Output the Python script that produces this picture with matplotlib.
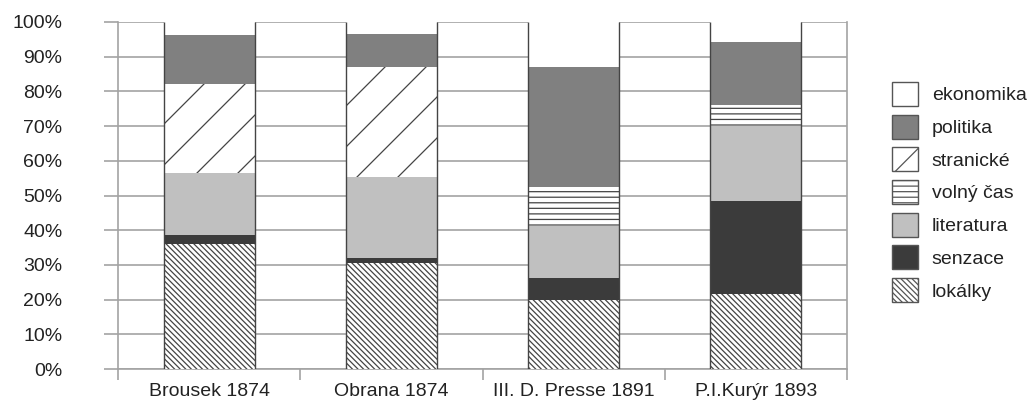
import numpy as np
import matplotlib
matplotlib.use("Agg")
import matplotlib.pyplot as plt
from matplotlib.lines import Line2D
from matplotlib.patches import Patch
from matplotlib.transforms import IdentityTransform

plt.rcParams['font.family'] = ['Liberation Sans', 'DejaVu Sans']
plt.rcParams['hatch.linewidth'] = 0.9
plt.rcParams['hatch.color'] = '#444444'

# categories and shares (%) per topic, stacked bottom -> top
papers = ['Brousek 1874', 'Obrana 1874', 'III. D. Presse 1891', 'P.I.Kurýr 1893']
lokalky = [36.0, 30.6, 19.8, 21.7]
senzace = [2.6, 1.5, 6.5, 26.7]
literatura = [17.8, 23.2, 14.9, 21.6]
volny_cas = [0.0, 0.0, 11.3, 6.0]
stranicke = [25.7, 31.7, 0.0, 0.0]
politika = [14.1, 9.4, 34.5, 18.1]
ekonomika = [3.8, 3.6, 13.0, 5.9]

series = [
    ('lokálky', lokalky, 'white', '\\' * 6),
    ('senzace', senzace, '#3b3b3b', None),
    ('literatura', literatura, '#c0c0c0', None),
    ('volný čas', volny_cas, 'white', '---'),
    ('stranické', stranicke, 'white', None),
    ('politika', politika, '#808080', None),
    ('ekonomika', ekonomika, 'white', None),
]

W, H = 1036, 401
FS = 14
fig = plt.figure(figsize=(W / 100, H / 100), dpi=100)
ax = fig.add_axes([118 / W, 1 - 369 / H, (847 - 118) / W, (369 - 22) / H])

grid_c = '#a3a3a3'
x = np.arange(len(papers))
bottom = np.zeros(len(papers))
containers = {}
for name, vals, col, hatch in series:
    bc = ax.bar(x, vals, 0.5, bottom=bottom, color=col, edgecolor='#444444',
                linewidth=0, hatch=hatch, zorder=3)
    containers[name] = bc
    bottom += np.array(vals)

ax.set_xlim(-0.5, len(papers) - 0.5)
ax.set_ylim(0, 100)
ax.set_autoscale_on(False)

# bar side outlines
for rect in containers['lokálky']:
    x0 = rect.get_x()
    x1 = x0 + rect.get_width()
    ax.vlines([x0, x1], 0, 100, color='#444444', linewidth=1.0, zorder=4)

ax.set_yticks(np.arange(0, 101, 10))
ax.set_yticklabels([f'{v}%' for v in range(0, 101, 10)])
ax.yaxis.grid(True, color=grid_c, linewidth=1.2, zorder=0)
ax.set_xticks(np.arange(-0.5, len(papers), 1.0))
ax.set_xticklabels([])
ax.set_xticks(x, minor=True)
ax.set_xticklabels(papers, minor=True)
ax.tick_params(axis='x', which='minor', length=0, pad=10, labelsize=FS, colors='#222222')
ax.tick_params(axis='x', which='major', length=8, width=1.2, color=grid_c)
ax.tick_params(axis='y', length=10, width=1.2, color=grid_c, pad=30, labelsize=FS,
               labelcolor='#222222')
for s in ['left', 'right', 'bottom']:
    ax.spines[s].set_color(grid_c)
    ax.spines[s].set_linewidth(1.2)
ax.spines['top'].set_visible(False)

# sparse diagonal hatch for "stranické"
fig.canvas.draw()
spacing = 41.0
for rect in containers['stranické']:
    if rect.get_height() <= 0:
        continue
    bb = rect.get_window_extent()
    # lines with slope 1 in pixels: y = x - c
    cmin = bb.x0 - bb.y1
    cmax = bb.x1 - bb.y0
    c = np.floor(cmin / spacing) * spacing + 10
    while c <= cmax + spacing:
        ln = Line2D([bb.x0 - 5, bb.x1 + 5], [bb.x0 - 5 - c, bb.x1 + 5 - c],
                    transform=IdentityTransform(), color='#444444', linewidth=0.9, zorder=3.5)
        ax.add_artist(ln)
        ln.set_clip_path(rect.get_path(), rect.get_transform())
        c += spacing

handles = []
for name, vals, col, hatch in series[::-1]:
    h = hatch
    if name == 'stranické':
        h = '/'
    handles.append(Patch(facecolor=col, edgecolor='#555555', linewidth=1.0, hatch=h, label=name))
fig.legend(handles=handles, loc='center left', bbox_to_anchor=(892 / W, 1 - 192 / H),
           frameon=False, fontsize=FS, handlelength=1.34, handleheight=1.52,
           labelspacing=0.45, handletextpad=0.7, borderpad=0, borderaxespad=0,
           labelcolor='#222222')

fig.savefig('out.png', dpi=100)
